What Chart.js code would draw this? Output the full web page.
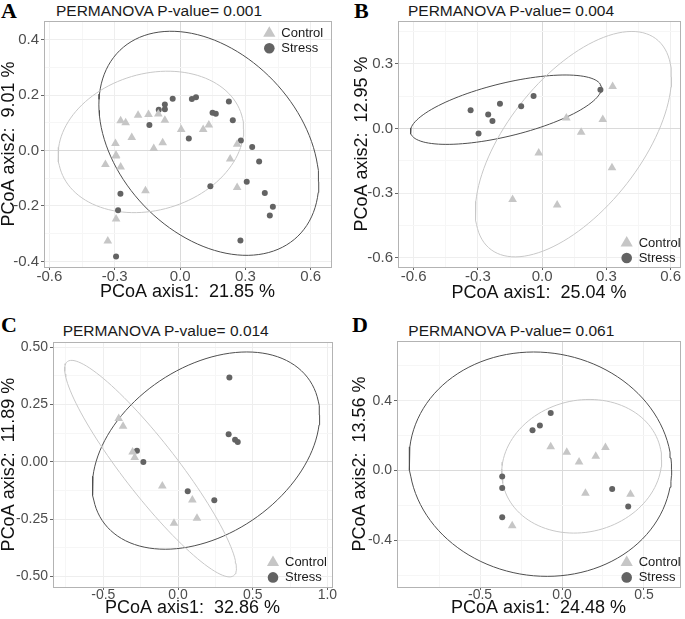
<!DOCTYPE html>
<html lang="en">

<head>
    <meta charset="UTF-8">
    <title>PCoA - Control vs Stress</title>
    <script src="https://cdn.jsdelivr.net/npm/chart.js"></script>
    <style>
        body { margin: 0; background: #fff; width: 685px; height: 619px; position: relative; overflow: hidden; font-family: 'Liberation Sans', Arial, sans-serif; }
        .box { position: absolute; }
        .letter { position: absolute; font-family: 'Liberation Serif', 'Times New Roman', serif; font-weight: bold; font-size: 22px; line-height: 22px; color: #000; }
        .ptitle { position: absolute; font-size: 15.5px; line-height: 15px; color: #1a1a1a; white-space: pre; }
    </style>
</head>

<body>

    <div class="letter" style="left:1px; top:0px;">A</div>
    <div class="letter" style="left:354px; top:0px;">B</div>
    <div class="letter" style="left:1px; top:314px;">C</div>
    <div class="letter" style="left:352px; top:314px;">D</div>

    <div class="ptitle" style="left:56px; top:2.5px;">PERMANOVA P-value= 0.001</div>
    <div class="ptitle" style="left:408px; top:3px;">PERMANOVA P-value= 0.004</div>
    <div class="ptitle" style="left:62.7px; top:322.5px;">PERMANOVA P-value= 0.014</div>
    <div class="ptitle" style="left:408.3px; top:323px;">PERMANOVA P-value= 0.061</div>

    <div class="box" style="left:0; top:0; width:342px; height:305px;"><canvas id="chartA"></canvas></div>
    <div class="box" style="left:340px; top:0; width:345px; height:305px;"><canvas id="chartB"></canvas></div>
    <div class="box" style="left:0; top:300px; width:342px; height:319px;"><canvas id="chartC"></canvas></div>
    <div class="box" style="left:340px; top:300px; width:345px; height:319px;"><canvas id="chartD"></canvas></div>

    <script>
        // ---- data ----
        const legendLabels = ['Control', 'Stress'];

        // A
        const aCtrlX = [-0.273, -0.250, -0.193, -0.145, -0.100, -0.070, -0.222, -0.297, -0.294, -0.295, -0.343, -0.273, -0.121, -0.080, 0.005, 0.106, 0.132, 0.262, 0.230, 0.262, -0.159, -0.294, -0.332];
        const aCtrlY = [0.107, 0.100, 0.127, 0.130, 0.132, 0.109, 0.047, 0.025, -0.017, -0.020, -0.050, -0.059, 0.007, 0.028, 0.076, 0.076, 0.092, 0.023, -0.031, -0.133, -0.145, -0.247, -0.326];
        const aStrX = [-0.141, -0.098, -0.070, -0.070, -0.034, 0.054, 0.073, 0.040, 0.149, 0.164, 0.224, 0.242, 0.279, 0.331, 0.363, 0.306, 0.389, 0.426, 0.412, 0.277, 0.139, -0.274, -0.285, -0.294];
        const aStrY = [0.092, 0.147, 0.166, 0.149, 0.187, 0.186, 0.192, 0.043, 0.136, 0.133, 0.177, 0.109, 0.036, 0.013, -0.040, -0.113, -0.153, -0.203, -0.234, -0.324, -0.129, -0.156, -0.215, -0.382];
        // ellipses: [centre x, centre y, half width, half height, correlation]
        const aCtrlEll = [-0.134, 0.031, 0.426, 0.255, 0.18];
        const aStrEll = [0.132, 0.026, 0.505, 0.404, -0.343];
        const aXTicks = [-0.6, -0.3, 0.0, 0.3, 0.6];
        const aYTicks = [-0.4, -0.2, 0.0, 0.2, 0.4];
        const aXTitle = 'PCoA axis1:  21.85 %';
        const aYTitle = 'PCoA axis2:  9.01 %';

        // B
        const bCtrlX = [0.329, 0.113, 0.283, 0.182, -0.016, 0.326, -0.138, 0.070];
        const bCtrlY = [0.196, 0.049, 0.042, -0.017, -0.113, -0.182, -0.329, -0.354];
        const bStrX = [-0.334, -0.297, -0.252, -0.232, -0.197, -0.098, -0.040, 0.272];
        const bStrY = [0.085, -0.023, 0.066, 0.036, 0.116, 0.104, 0.152, 0.181];
        const bCtrlEll = [0.146, -0.072, 0.458, 0.523, 0.595];
        const bStrEll = [-0.169, 0.088, 0.446, 0.161, 0.62];
        const bXTicks = [-0.6, -0.3, 0.0, 0.3, 0.6];
        const bYTicks = [-0.6, -0.3, 0.0, 0.3];
        const bXTitle = 'PCoA axis1:  25.04 %';
        const bYTitle = 'PCoA axis2:  12.95 %';

        // C
        const cCtrlX = [-0.397, -0.368, -0.304, -0.290, -0.105, 0.096, 0.127, -0.027];
        const cCtrlY = [0.188, 0.155, 0.043, 0.019, -0.106, -0.167, -0.246, -0.268];
        const cStrX = [-0.275, -0.232, 0.065, 0.243, 0.344, 0.339, 0.382, 0.400];
        const cStrY = [0.048, -0.001, -0.129, -0.168, 0.367, 0.120, 0.096, 0.086];
        const cCtrlEll = [-0.184, -0.030, 0.575, 0.472, -0.92];
        const cStrEll = [0.1875, 0.0486, 0.761, 0.430, 0.36];
        const cXTicks = [-0.5, 0.0, 0.5, 1.0];
        const cYTicks = [-0.50, -0.25, 0.00, 0.25, 0.50];
        const cXTitle = 'PCoA axis1:  32.86 %';
        const cYTitle = 'PCoA axis2:  11.89 %';

        // D
        const dCtrlX = [-0.069, 0.029, 0.104, 0.206, 0.265, 0.143, 0.418, -0.304];
        const dCtrlY = [0.137, 0.105, 0.050, 0.082, 0.133, -0.130, -0.135, -0.316];
        const dStrX = [-0.069, -0.135, -0.180, -0.365, -0.365, -0.365, 0.306, 0.404];
        const dStrY = [0.331, 0.259, 0.232, -0.034, -0.099, -0.267, -0.105, -0.206];
        const dCtrlEll = [0.120, 0.025, 0.488, 0.383, 0.095];
        const dStrEll = [-0.132, 0.037, 0.801, 0.643, -0.05];
        const dXTicks = [-0.5, 0.0, 0.5];
        const dYTicks = [-0.4, 0.0, 0.4];
        const dXTitle = 'PCoA axis1:  24.48 %';
        const dYTitle = 'PCoA axis2:  13.56 %';

        // ---- styling ----
        const FONT = "'Liberation Sans', Arial, sans-serif";
        const CTRL = '#c6c6c6';
        const STR = '#636363';
        const CTRL_LINE = '#c8c8c8';
        const STR_LINE = '#4f4f4f';

        function toPts(xs, ys) {
            return xs.map((x, i) => ({ x: x, y: ys[i] }));
        }

        // outline of an ellipse given centre, half extents and correlation
        function ellipse(e) {
            const [cx, cy, sx, sy, r] = e;
            const k = Math.sqrt(1 - r * r);
            const pts = [];
            for (let i = 0; i <= 120; i++) {
                const t = i / 120 * 2 * Math.PI;
                pts.push({ x: cx + sx * Math.cos(t), y: cy + sy * (r * Math.cos(t) + k * Math.sin(t)) });
            }
            return pts;
        }

        // major ticks plus the minor ones halfway between (inside the range)
        function gridValues(majors, min, max) {
            const step = majors[1] - majors[0];
            const vals = [];
            for (let v = majors[0] - step / 2; v <= majors[majors.length - 1] + step / 2 + 1e-9; v += step / 2) {
                const r = Math.round(v * 1000) / 1000;
                if (r >= min && r <= max) vals.push(r);
            }
            return vals;
        }
        const isMajor = (v, majors) => majors.some(m => Math.abs(m - v) < 1e-6);

        const frame = {
            id: 'frame',
            beforeDatasetsDraw(chart) {
                const { ctx, chartArea: a } = chart;
                ctx.save();
                ctx.strokeStyle = '#b3b3b3';
                ctx.lineWidth = 1;
                ctx.strokeRect(Math.round(a.left) + 0.5, Math.round(a.top) + 0.5, Math.round(a.right - a.left), Math.round(a.bottom - a.top));
                ctx.restore();
            }
        };

        const keyLegend = {
            id: 'keyLegend',
            afterDraw(chart, args, opts) {
                const { ctx, chartArea: a } = chart;
                const x = a.right - opts.dx;
                const y0 = opts.corner === 'top' ? a.top + opts.dy : a.bottom - opts.dy - 15;
                ctx.save();
                ctx.font = '13px ' + FONT;
                ctx.textBaseline = 'middle';
                ctx.fillStyle = CTRL;
                ctx.beginPath();
                ctx.moveTo(x, y0 - 7);
                ctx.lineTo(x + 6.1, y0 + 3.5);
                ctx.lineTo(x - 6.1, y0 + 3.5);
                ctx.closePath();
                ctx.fill();
                ctx.fillStyle = STR;
                ctx.beginPath();
                ctx.arc(x, y0 + 15, 5.3, 0, 2 * Math.PI);
                ctx.fill();
                ctx.fillStyle = '#1a1a1a';
                ctx.fillText(legendLabels[0], x + 12, y0 + 0.5);
                ctx.fillText(legendLabels[1], x + 12, y0 + 15.5);
                ctx.restore();
            }
        };

        function makePanel(p) {
            const xGrid = gridValues(p.xTicks, p.xMin, p.xMax);
            const yGrid = gridValues(p.yTicks, p.yMin, p.yMax);
            const gridColor = majors => c => {
                const v = c.tick.value;
                if (Math.abs(v) < 1e-9) return '#dadada';
                return isMajor(v, majors) ? '#eeeeee' : '#f6f6f6';
            };
            const tickColor = majors => c => isMajor(c.tick.value, majors) ? '#666' : 'rgba(0,0,0,0)';

            new Chart(document.getElementById(p.canvas), {
                type: 'scatter',
                data: {
                    datasets: [
                        { data: toPts(p.ctrlX, p.ctrlY), pointStyle: 'triangle', pointRadius: 5, backgroundColor: CTRL, borderWidth: 0, order: 0 },
                        { data: toPts(p.strX, p.strY), pointStyle: 'circle', pointRadius: 3, backgroundColor: STR, borderWidth: 0, order: 0 },
                        { data: ellipse(p.ctrlEll), showLine: true, pointRadius: 0, borderColor: CTRL_LINE, borderWidth: 1, fill: false, order: 1 },
                        { data: ellipse(p.strEll), showLine: true, pointRadius: 0, borderColor: STR_LINE, borderWidth: 1, fill: false, order: 1 }
                    ]
                },
                options: {
                    responsive: true,
                    maintainAspectRatio: false,
                    animation: false,
                    devicePixelRatio: 1,
                    layout: { padding: p.pad, autoPadding: false },
                    plugins: {
                        legend: { display: false },
                        tooltip: { enabled: false },
                        keyLegend: p.legend
                    },
                    scales: {
                        x: {
                            type: 'linear',
                            min: p.xMin,
                            max: p.xMax,
                            afterBuildTicks: s => { s.ticks = xGrid.map(v => ({ value: v })); },
                            afterFit: s => { s.height = p.xH; },
                            ticks: {
                                font: { family: FONT, size: p.tickSize, lineHeight: 1 },
                                color: '#4d4d4d',
                                padding: p.xTickPad,
                                maxRotation: 0,
                                autoSkip: false,
                                callback: v => isMajor(v, p.xTicks) ? v.toFixed(p.xDec) : ''
                            },
                            grid: { color: gridColor(p.xTicks), lineWidth: 1, tickLength: 3, tickColor: tickColor(p.xTicks) },
                            border: { display: false },
                            title: {
                                display: true, text: p.xTitle, color: '#111',
                                font: { family: FONT, size: 18, lineHeight: 1 },
                                padding: { top: 0, bottom: p.xTitlePad }
                            }
                        },
                        y: {
                            type: 'linear',
                            min: p.yMin,
                            max: p.yMax,
                            afterBuildTicks: s => { s.ticks = yGrid.map(v => ({ value: v })); },
                            afterFit: s => { s.width = p.yW; },
                            ticks: {
                                font: { family: FONT, size: p.tickSize, lineHeight: 1 },
                                color: '#4d4d4d',
                                padding: 2,
                                autoSkip: false,
                                callback: v => isMajor(v, p.yTicks) ? v.toFixed(p.yDec) : ''
                            },
                            grid: { color: gridColor(p.yTicks), lineWidth: 1, tickLength: 3, tickColor: tickColor(p.yTicks) },
                            border: { display: false },
                            title: {
                                display: true, text: p.yTitle, color: '#111',
                                font: { family: FONT, size: 18, lineHeight: 1 },
                                padding: { top: p.yTitlePad, bottom: 0 }
                            }
                        }
                    }
                },
                plugins: [frame, keyLegend]
            });
        }

        // --- A ---
        makePanel({
            canvas: 'chartA', ctrlX: aCtrlX, ctrlY: aCtrlY, strX: aStrX, strY: aStrY,
            ctrlEll: aCtrlEll, strEll: aStrEll, xTicks: aXTicks, yTicks: aYTicks, xDec: 1, yDec: 1,
            xTitle: aXTitle, yTitle: aYTitle,
            xMin: -0.625, xMax: 0.693, yMin: -0.420, yMax: 0.467,
            pad: { top: 21, right: 11, left: 0, bottom: 0 }, yW: 44, xH: 38,
            xTitlePad: 4, yTitlePad: 0, tickSize: 15, xTickPad: -0.5,
            legend: { corner: 'top', dx: 61.7, dy: 12.3 }
        });

        // --- B ---
        makePanel({
            canvas: 'chartB', ctrlX: bCtrlX, ctrlY: bCtrlY, strX: bStrX, strY: bStrY,
            ctrlEll: bCtrlEll, strEll: bStrEll, xTicks: bXTicks, yTicks: bYTicks, xDec: 1, yDec: 1,
            xTitle: bXTitle, yTitle: bYTitle,
            xMin: -0.673, xMax: 0.6435, yMin: -0.642, yMax: 0.4995,
            pad: { top: 21, right: 5, left: 0, bottom: 0 }, yW: 58, xH: 38,
            xTitlePad: 3, yTitlePad: 13, tickSize: 15, xTickPad: -0.5,
            legend: { corner: 'bottom', dx: 53.3, dy: 9 }
        });

        // --- C ---
        makePanel({
            canvas: 'chartC', ctrlX: cCtrlX, ctrlY: cCtrlY, strX: cStrX, strY: cStrY,
            ctrlEll: cCtrlEll, strEll: cStrEll, xTicks: cXTicks, yTicks: cYTicks, xDec: 1, yDec: 2,
            xTitle: cXTitle, yTitle: cYTitle,
            xMin: -0.837, xMax: 1.031, yMin: -0.546, yMax: 0.522,
            pad: { top: 42, right: 10, left: 0, bottom: 0 }, yW: 53, xH: 32,
            xTitlePad: 1.5, yTitlePad: 0, tickSize: 14, xTickPad: -1.5,
            legend: { corner: 'bottom', dx: 59, dy: 9.6 }
        });

        // --- D ---
        makePanel({
            canvas: 'chartD', ctrlX: dCtrlX, ctrlY: dCtrlY, strX: dStrX, strY: dStrY,
            ctrlEll: dCtrlEll, strEll: dStrEll, xTicks: dXTicks, yTicks: dYTicks, xDec: 1, yDec: 1,
            xTitle: dXTitle, yTitle: dYTitle,
            xMin: -1.007, xMax: 0.72, yMin: -0.667, yMax: 0.743,
            pad: { top: 41, right: 5, left: 0, bottom: 0 }, yW: 57, xH: 32,
            xTitlePad: 1.5, yTitlePad: 11.5, tickSize: 14, xTickPad: -1.5,
            legend: { corner: 'bottom', dx: 53.3, dy: 9.6 }
        });
    </script>

</body>

</html>
